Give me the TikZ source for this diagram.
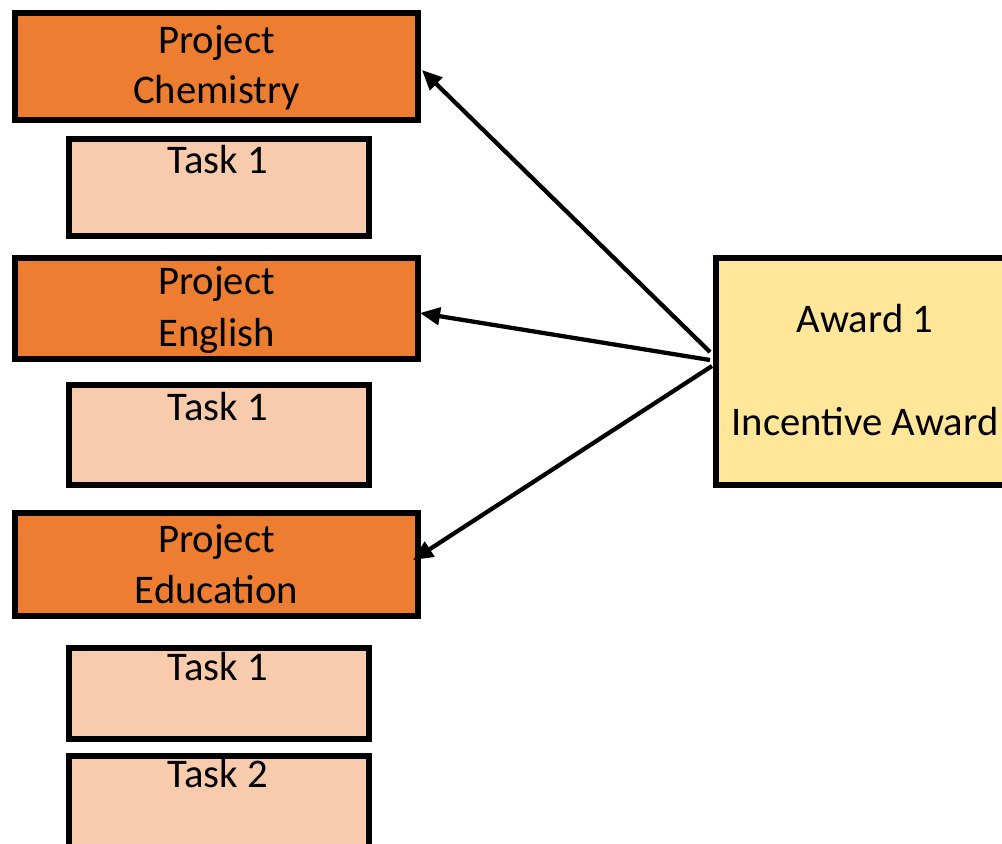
\documentclass[tikz,border=0pt]{standalone}
\usepackage{fontspec}
\setmainfont{Carlito}
\usetikzlibrary{arrows.meta,calc}
\definecolor{projorange}{HTML}{ED7D31}
\definecolor{tasklight}{HTML}{F8CBAD}
\definecolor{awardyellow}{HTML}{FFE699}
\begin{document}
\begin{tikzpicture}[x=0.75pt,y=-0.75pt,
  boxbase/.style={draw=black,line width=4pt,inner sep=0pt,outer sep=0pt},
  projbox/.style={boxbase,fill=projorange,minimum width=302.25pt},
  taskbox/.style={boxbase,fill=tasklight,minimum width=225pt},
  awardbox/.style={boxbase,fill=awardyellow},
  lbl/.style={anchor=base,inner sep=0pt,font=\fontsize{30.5}{36}\selectfont},
  arr/.style={draw=black,line width=3.2pt,-{Triangle[length=15pt,width=13pt]}}
]
\useasboundingbox (0,0) rectangle (1002,843);
\begin{scope}
\clip (0,0) rectangle (1002,843);
% project boxes
\node[projbox,minimum height=80.25pt] (chem) at (216.5,66.5) {};
\node[projbox,minimum height=75.75pt] (eng) at (216.5,308.5) {};
\node[projbox,minimum height=77.25pt] (edu) at (216.5,564.5) {};
% task boxes
\node[taskbox,minimum height=72.75pt] (t1a) at (219,187.5) {};
\node[taskbox,minimum height=75pt] (t1b) at (219,435) {};
\node[taskbox,minimum height=68.25pt] (t1c) at (219,693.5) {};
\node[taskbox,minimum height=78pt] (t2) at (219,808) {};
% award box
\node[awardbox,minimum width=223.5pt,minimum height=170.25pt] (award) at (865,371.5) {};
% texts
\node[lbl] (chemA) at (216.5,53) {Project};
\node[lbl] (chemB) at (216.5,103) {Chemistry};
\node[lbl] (engA) at (216.5,294) {Project};
\node[lbl] (engB) at (216.5,346) {English};
\node[lbl] (eduA) at (216.5,552) {Project};
\node[lbl] (eduB) at (216.5,603) {Education};
\node[lbl] (t1aT) at (218,173) {Task 1};
\node[lbl] (t1bT) at (218,420) {Task 1};
\node[lbl] (t1cT) at (218,680) {Task 1};
\node[lbl] (t2T) at (218,787) {Task 2};
\node[lbl] (awA) at (865,332) {Award 1};
\node[lbl] (awB) at (865,435) {Incentive Award};
% arrows
\draw[arr] ($(award.west)+(-6,-19.5)$) -- ($(chem.east)+(4,3.5)$);
\draw[arr] ($(award.west)+(-6,-11.5)$) -- ($(eng.east)+(2,4.5)$);
\draw[arr] ($(award.west)+(-4,-5.5)$) -- ($(edu.east)+(-5,-4.5)$);
\end{scope}
\end{tikzpicture}
\end{document}
